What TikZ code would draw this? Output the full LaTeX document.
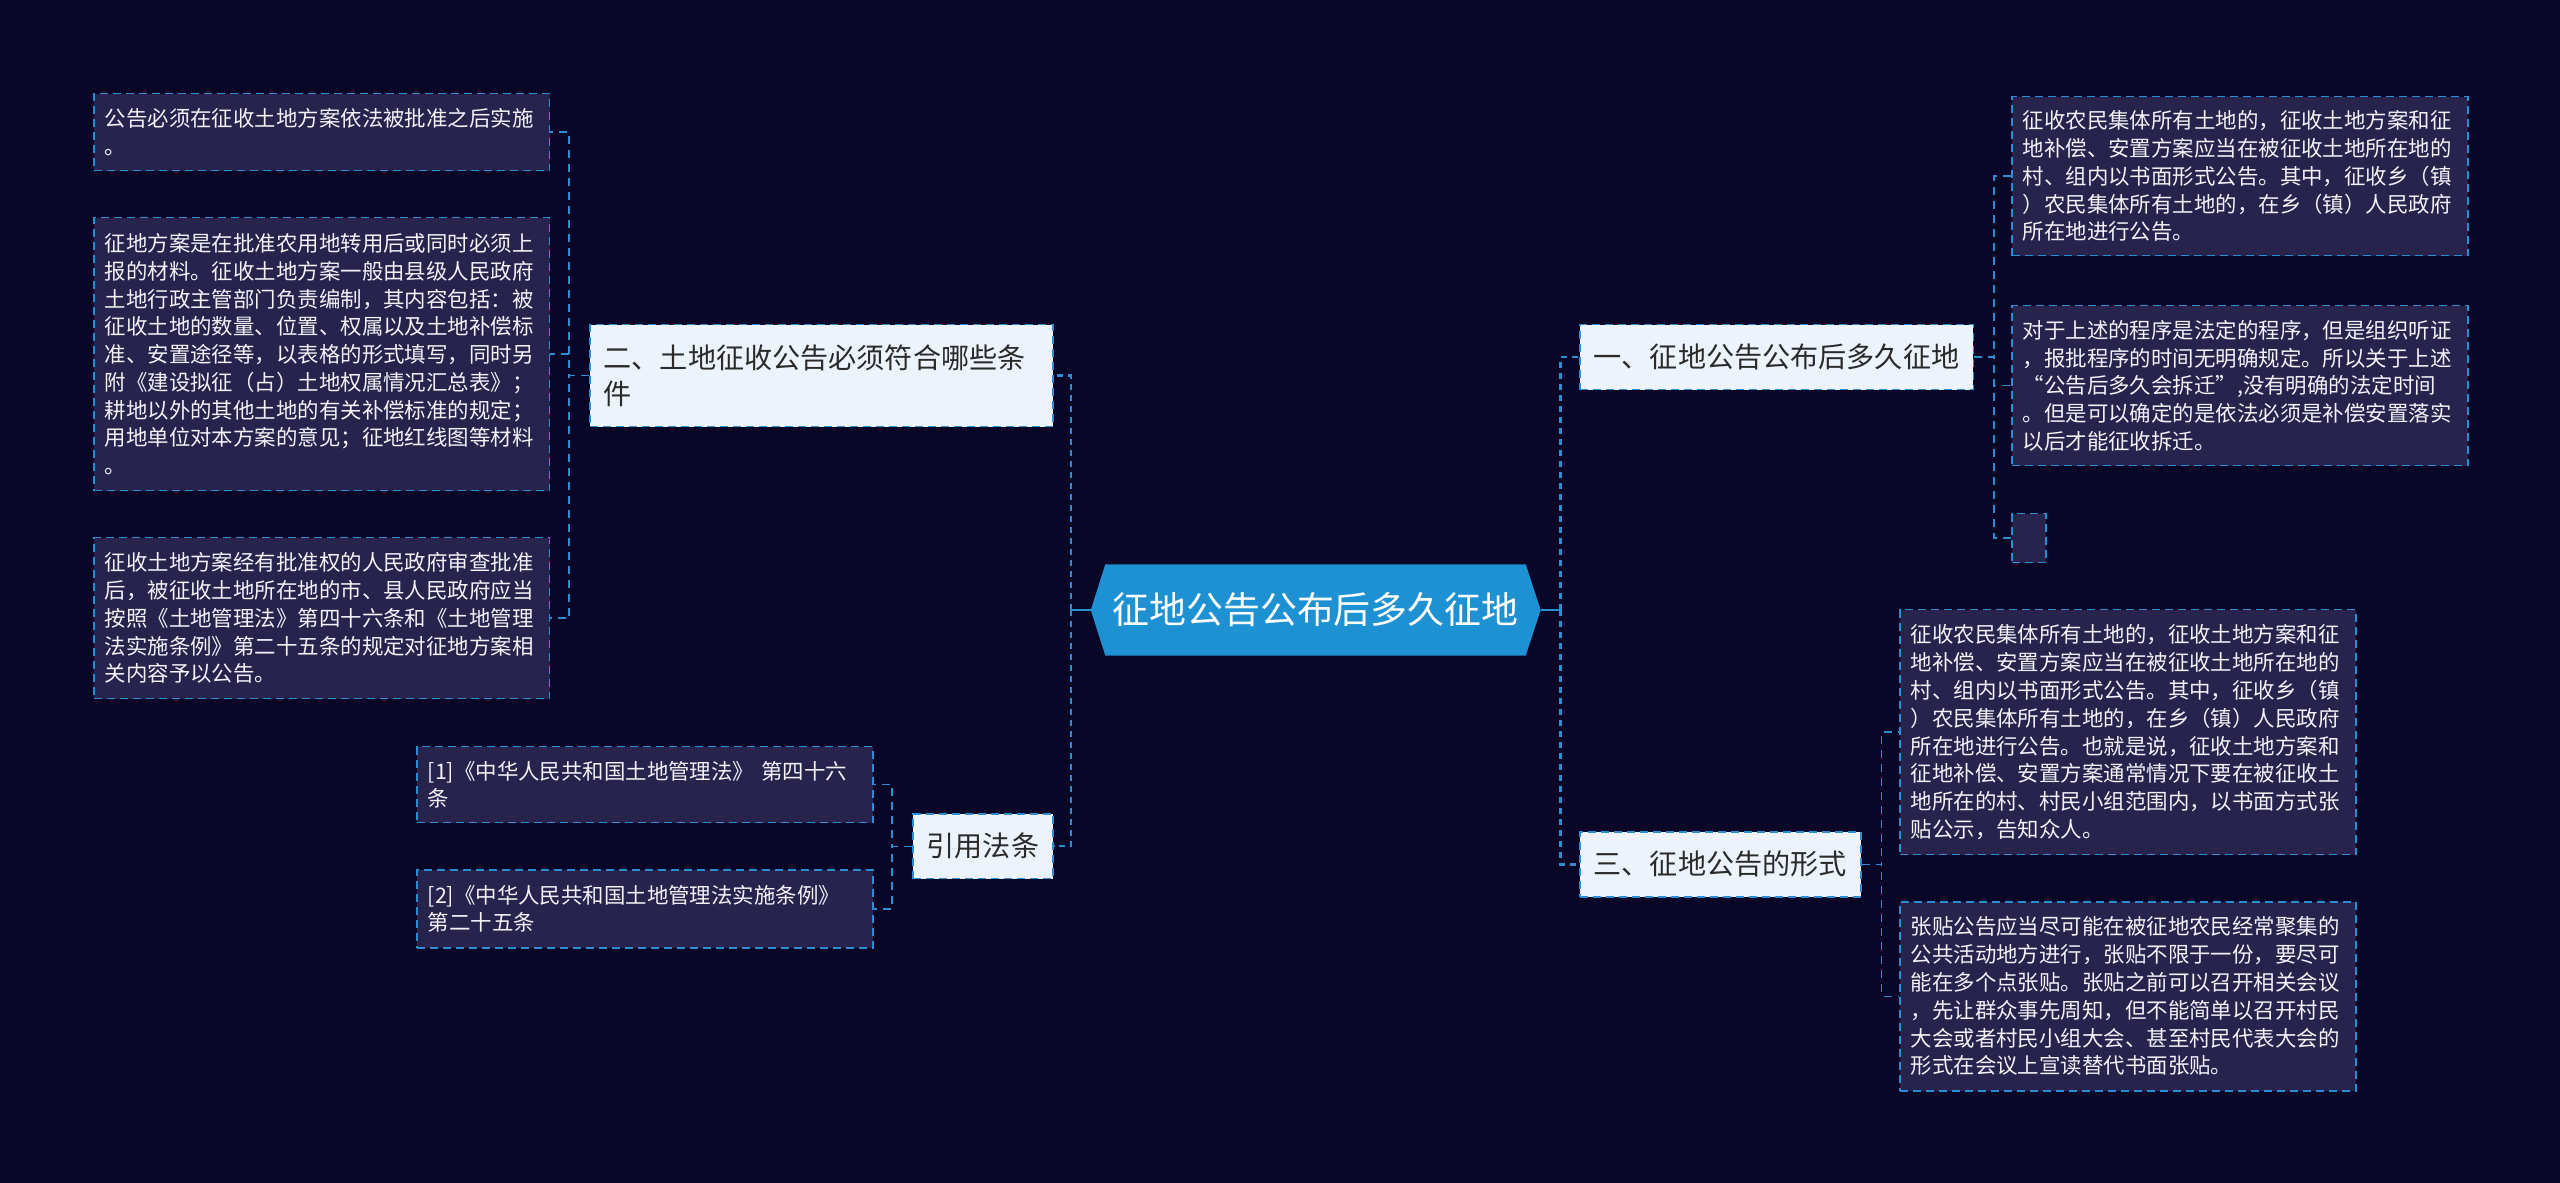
\documentclass[tikz,border=0pt]{standalone}
\usepackage{fontspec}
\newfontfamily\cjk{Noto Sans CJK SC}
\usetikzlibrary{backgrounds}

\definecolor{pagebg}{HTML}{0A0627}
\definecolor{leaffill}{HTML}{27234D}
\definecolor{leaftext}{HTML}{F2F2F8}
\definecolor{lineblue}{HTML}{2B8ED3}
\definecolor{branchfill}{HTML}{EDF3FB}
\definecolor{branchtext}{HTML}{2A2A2A}
\definecolor{centerblue}{HTML}{1E91D2}

\tikzset{
	leafbox/.style={draw=lineblue, line width=0.15mm, dash pattern=on 0.8mm off 0.5mm, fill=leaffill, text=leaftext,
		font=\cjk\fontsize{6.1}{7.9}\selectfont, align=left, text width=43.4mm, inner xsep=1.1mm, inner ysep=0pt, anchor=north west},
	branchbox/.style={draw=lineblue, line width=0.15mm, dash pattern=on 0.8mm off 0.5mm, fill=branchfill, text=branchtext,
		font=\cjk\fontsize{8}{10.5}\selectfont, inner xsep=1.4mm, inner ysep=0pt, minimum height=6.5mm, anchor=north west},
	mainlink/.style={draw=lineblue, line width=0.25mm, dash pattern=on 0.6mm off 0.5mm},
	leaflink/.style={draw=lineblue, line width=0.15mm, dash pattern=on 0.8mm off 0.6mm},
}

\begin{document}
\begin{tikzpicture}[x=0.1mm, y=-0.1mm]
				\useasboundingbox (0,0) rectangle (2560,1183);
				
				% centre
				\node[font=\cjk\fontsize{10.5}{12}\selectfont, text=white, minimum width=41.9mm, minimum height=9mm, inner sep=0pt] (zhongxin) at (1315.5,610) {征地公告公布后多久征地};
				\coordinate (zuojian) at ([xshift=-1.45mm]zhongxin.west);
				\coordinate (youjian) at ([xshift=1.5mm]zhongxin.east);
				
				\begin{scope}[on background layer]
					\fill[pagebg] (0,0) rectangle (2560,1183);
					\fill[centerblue] (zuojian) -- (zhongxin.north west) -- (zhongxin.north east) -- (youjian) -- (zhongxin.south east) -- (zhongxin.south west) -- cycle;
				\end{scope}
				
				% branches
				\node[branchbox, align=left, text width=43.5mm, minimum height=10.2mm] (er) at (589,324) {二、土地征收公告必须符合哪些条\\件};
				\node[branchbox, minimum width=14mm] (yinyong) at (912,813) {引用法条};
				\node[branchbox, minimum width=39.1mm] (yi) at (1579,324) {一、征地公告公布后多久征地};
				\node[branchbox, minimum width=28mm] (san) at (1579,831) {三、征地公告的形式};
				
				% left leaves
				\node[leafbox, minimum height=7.7mm] (zuo1) at (93,93) {公告必须在征收土地方案依法被批准之后实施\\。};
				\node[leafbox, minimum height=27.3mm] (zuo2) at (93,217) {征地方案是在批准农用地转用后或同时必须上\\报的材料。征收土地方案一般由县级人民政府\\土地行政主管部门负责编制，其内容包括：被\\征收土地的数量、位置、权属以及土地补偿标\\准、安置途径等，以表格的形式填写，同时另\\附《建设拟征（占）土地权属情况汇总表》；\\耕地以外的其他土地的有关补偿标准的规定；\\用地单位对本方案的意见；征地红线图等材料\\。};
				\node[leafbox, minimum height=16.1mm] (zuo3) at (93,537) {征收土地方案经有批准权的人民政府审查批准\\后，被征收土地所在地的市、县人民政府应当\\按照《土地管理法》第四十六条和《土地管理\\法实施条例》第二十五条的规定对征地方案相\\关内容予以公告。};
				\node[leafbox, minimum height=7.6mm] (fa1) at (416,746) {[1]《中华人民共和国土地管理法》 第四十六\\条};
				\node[leafbox, minimum height=7.8mm] (fa2) at (416,869) {[2]《中华人民共和国土地管理法实施条例》\\第二十五条};
				
				% right leaves
				\node[leafbox, minimum height=15.9mm] (you1) at (2011,96) {征收农民集体所有土地的，征收土地方案和征\\地补偿、安置方案应当在被征收土地所在地的\\村、组内以书面形式公告。其中，征收乡（镇\\）农民集体所有土地的，在乡（镇）人民政府\\所在地进行公告。};
				\node[leafbox, minimum height=16mm] (you2) at (2011,305) {对于上述的程序是法定的程序，但是组织听证\\，报批程序的时间无明确规定。所以关于上述\\ “公告后多久会拆迁”,没有明确的法定时间\\。但是可以确定的是依法必须是补偿安置落实\\以后才能征收拆迁。};
				\node[leafbox, text width=0pt, inner sep=0pt, minimum width=3.4mm, minimum height=4.9mm] (you3) at (2011,513) {};
				\node[leafbox, minimum height=24.5mm] (you4) at (1899,609) {征收农民集体所有土地的，征收土地方案和征\\地补偿、安置方案应当在被征收土地所在地的\\村、组内以书面形式公告。其中，征收乡（镇\\）农民集体所有土地的，在乡（镇）人民政府\\所在地进行公告。也就是说，征收土地方案和\\征地补偿、安置方案通常情况下要在被征收土\\地所在的村、村民小组范围内，以书面方式张\\贴公示，告知众人。};
				\node[leafbox, minimum height=18.9mm] (you5) at (1899,901) {张贴公告应当尽可能在被征地农民经常聚集的\\公共活动地方进行，张贴不限于一份，要尽可\\能在多个点张贴。张贴之前可以召开相关会议\\，先让群众事先周知，但不能简单以召开村民\\大会或者村民小组大会、甚至村民代表大会的\\形式在会议上宣读替代书面张贴。};
				
				% links from the centre
				\draw[lineblue, line width=0.25mm] (zuojian) -- ++(-20,0) coordinate (zuobus);
				\draw[lineblue, line width=0.25mm] (youjian) -- ++(20,0) coordinate (youbus);
				\draw[mainlink] (zuobus) |- (er.east);
				\draw[mainlink] (zuobus) |- (yinyong.east);
				\draw[mainlink] (youbus) |- (yi.west);
				\draw[mainlink] (youbus) |- (san.west);
				
				% links to the leaves
				\foreach \n in {zuo1,zuo2,zuo3}
					\draw[leaflink] (er.west) -- ++(-20,0) |- (\n.east);
				\foreach \n in {fa1,fa2}
					\draw[leaflink] (yinyong.west) -- ++(-20,0) |- (\n.east);
				\foreach \n in {you1,you2,you3}
					\draw[leaflink] (yi.east) -- ++(20,0) |- (\n.west);
				\foreach \n in {you4,you5}
					\draw[leaflink] (san.east) -- ++(20,0) |- (\n.west);
\end{tikzpicture}
\end{document}
